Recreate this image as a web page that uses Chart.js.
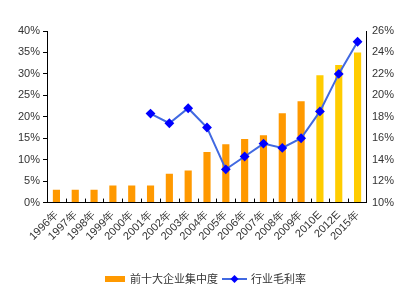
<!DOCTYPE html>
<html>
<head>
<meta charset="utf-8">
<script src="https://cdn.jsdelivr.net/npm/chart.js@4.4.1/dist/chart.umd.min.js"></script>
<style>
  html, body { margin: 0; padding: 0; background: #fff; }
  #wrap { width: 402px; height: 298px; }
</style>
</head>
<body>
<div id="wrap"><canvas id="mychart" width="402" height="298"></canvas></div>
<script>
const years = ['1996年','1997年','1998年','1999年','2000年','2001年','2002年','2003年','2004年',
  '2005年','2006年','2007年','2008年','2009年','2010E','2012E','2015年'];
// concentration of top ten firms, %
const top10Share = [3, 3, 3, 4, 4, 4, 6.7, 7.5, 11.8, 13.6, 14.8, 15.7, 20.8, 23.6, 29.7, 32.1, 35];
// gross margin, %
const grossMargin = [null, null, null, null, null, 18.3, 17.4, 18.8, 17.0, 13.1, 14.3, 15.5, 15.1, 16.0, 18.5, 22.0, 25.0];
const leftTicks = [0, 5, 10, 15, 20, 25, 30, 35, 40];
const rightTicks = [10, 12, 14, 16, 18, 20, 22, 24, 26];
const seriesNames = ['前十大企业集中度', '行业毛利率'];

const orange = '#FF9900';
const yellow = '#FFCC00';
const barColors = years.map(y => y.indexOf('E') > 0 || y === '2015年' ? yellow : orange);

const fontFam = '"Liberation Sans", Arial, sans-serif';

// legend drawn by hand: bar swatch + line with diamond
const legendPlugin = {
  id: 'bottomLegend',
  afterDraw(chart) {
    const ctx = chart.ctx;
    const y = 279;
    ctx.save();
    ctx.font = '11px "Noto Sans CJK SC", sans-serif';
    ctx.textBaseline = 'middle';
    let x = 105;
    ctx.fillStyle = orange;
    ctx.fillRect(x, y - 3, 20, 6);
    ctx.fillStyle = '#333';
    ctx.fillText(seriesNames[0], x + 25, y);
    x = x + 25 + ctx.measureText(seriesNames[0]).width + 4;
    ctx.strokeStyle = '#4169E1';
    ctx.lineWidth = 2;
    ctx.beginPath();
    ctx.moveTo(x, y);
    ctx.lineTo(x + 25, y);
    ctx.stroke();
    ctx.fillStyle = '#0000FF';
    ctx.beginPath();
    ctx.moveTo(x + 12.5, y - 4);
    ctx.lineTo(x + 16.5, y);
    ctx.lineTo(x + 12.5, y + 4);
    ctx.lineTo(x + 8.5, y);
    ctx.closePath();
    ctx.fill();
    ctx.fillStyle = '#333';
    ctx.fillText(seriesNames[1], x + 29, y);
    ctx.restore();
  }
};

// small tick marks pointing up from the category axis, between categories
const innerTicks = {
  id: 'innerTicks',
  afterDatasetsDraw(chart) {
    const xs = chart.scales.x;
    const bottom = chart.chartArea.bottom;
    const ctx = chart.ctx;
    ctx.save();
    ctx.strokeStyle = '#000';
    ctx.lineWidth = 1;
    const step = (xs.right - xs.left) / years.length;
    for (let i = 1; i < years.length; i++) {
      const px = Math.round(xs.left + step * i) + 0.5;
      ctx.beginPath();
      ctx.moveTo(px, bottom);
      ctx.lineTo(px, bottom - 4);
      ctx.stroke();
    }
    ctx.restore();
  }
};

const data = {
  labels: years,
  datasets: [{
    type: 'line',
    label: seriesNames[1],
    data: grossMargin,
    yAxisID: 'y2',
    borderColor: '#4169E1',
    borderWidth: 2,
    backgroundColor: '#0000FF',
    pointStyle: 'rectRot',
    pointRadius: 3.5,
    pointBorderColor: '#0000FF',
    pointBackgroundColor: '#0000FF',
    spanGaps: false,
    tension: 0,
    order: 0
  }, {
    type: 'bar',
    label: seriesNames[0],
    data: top10Share,
    yAxisID: 'y',
    backgroundColor: barColors,
    barPercentage: 0.38,
    categoryPercentage: 1.0,
    order: 1
  }]
};

const config = {
  data: data,
  plugins: [innerTicks, legendPlugin],
  options: {
    responsive: false,
    animation: false,
    layout: { padding: { top: 31, right: 3, bottom: 49, left: 15 } },
    plugins: {
      legend: { display: false },
      tooltip: { enabled: false }
    },
    scales: {
      x: {
        grid: { display: false, drawTicks: false },
        border: { color: '#000', width: 1 },
        ticks: {
          color: '#333',
          font: { family: fontFam, size: 11 },
          maxRotation: 45,
          minRotation: 45,
          autoSkip: false,
          padding: 6
        }
      },
      y: {
        position: 'left',
        min: 0, max: 40,
        afterBuildTicks: axis => { axis.ticks = leftTicks.map(v => ({ value: v })); },
        grid: { drawOnChartArea: false, tickLength: 4, color: '#000' },
        border: { color: '#000', width: 1 },
        ticks: {
          color: '#333',
          font: { family: fontFam, size: 11 },
          padding: 3,
          callback: v => v + '%'
        }
      },
      y2: {
        position: 'right',
        min: 10, max: 26,
        afterBuildTicks: axis => { axis.ticks = rightTicks.map(v => ({ value: v })); },
        grid: { drawOnChartArea: false, drawTicks: false },
        border: { color: '#000', width: 1 },
        ticks: {
          color: '#333',
          font: { family: fontFam, size: 11 },
          padding: 5,
          callback: v => v + '%'
        }
      }
    }
  }
};

let chart = new Chart(document.querySelector('#mychart'), config);
</script>
</body>
</html>
